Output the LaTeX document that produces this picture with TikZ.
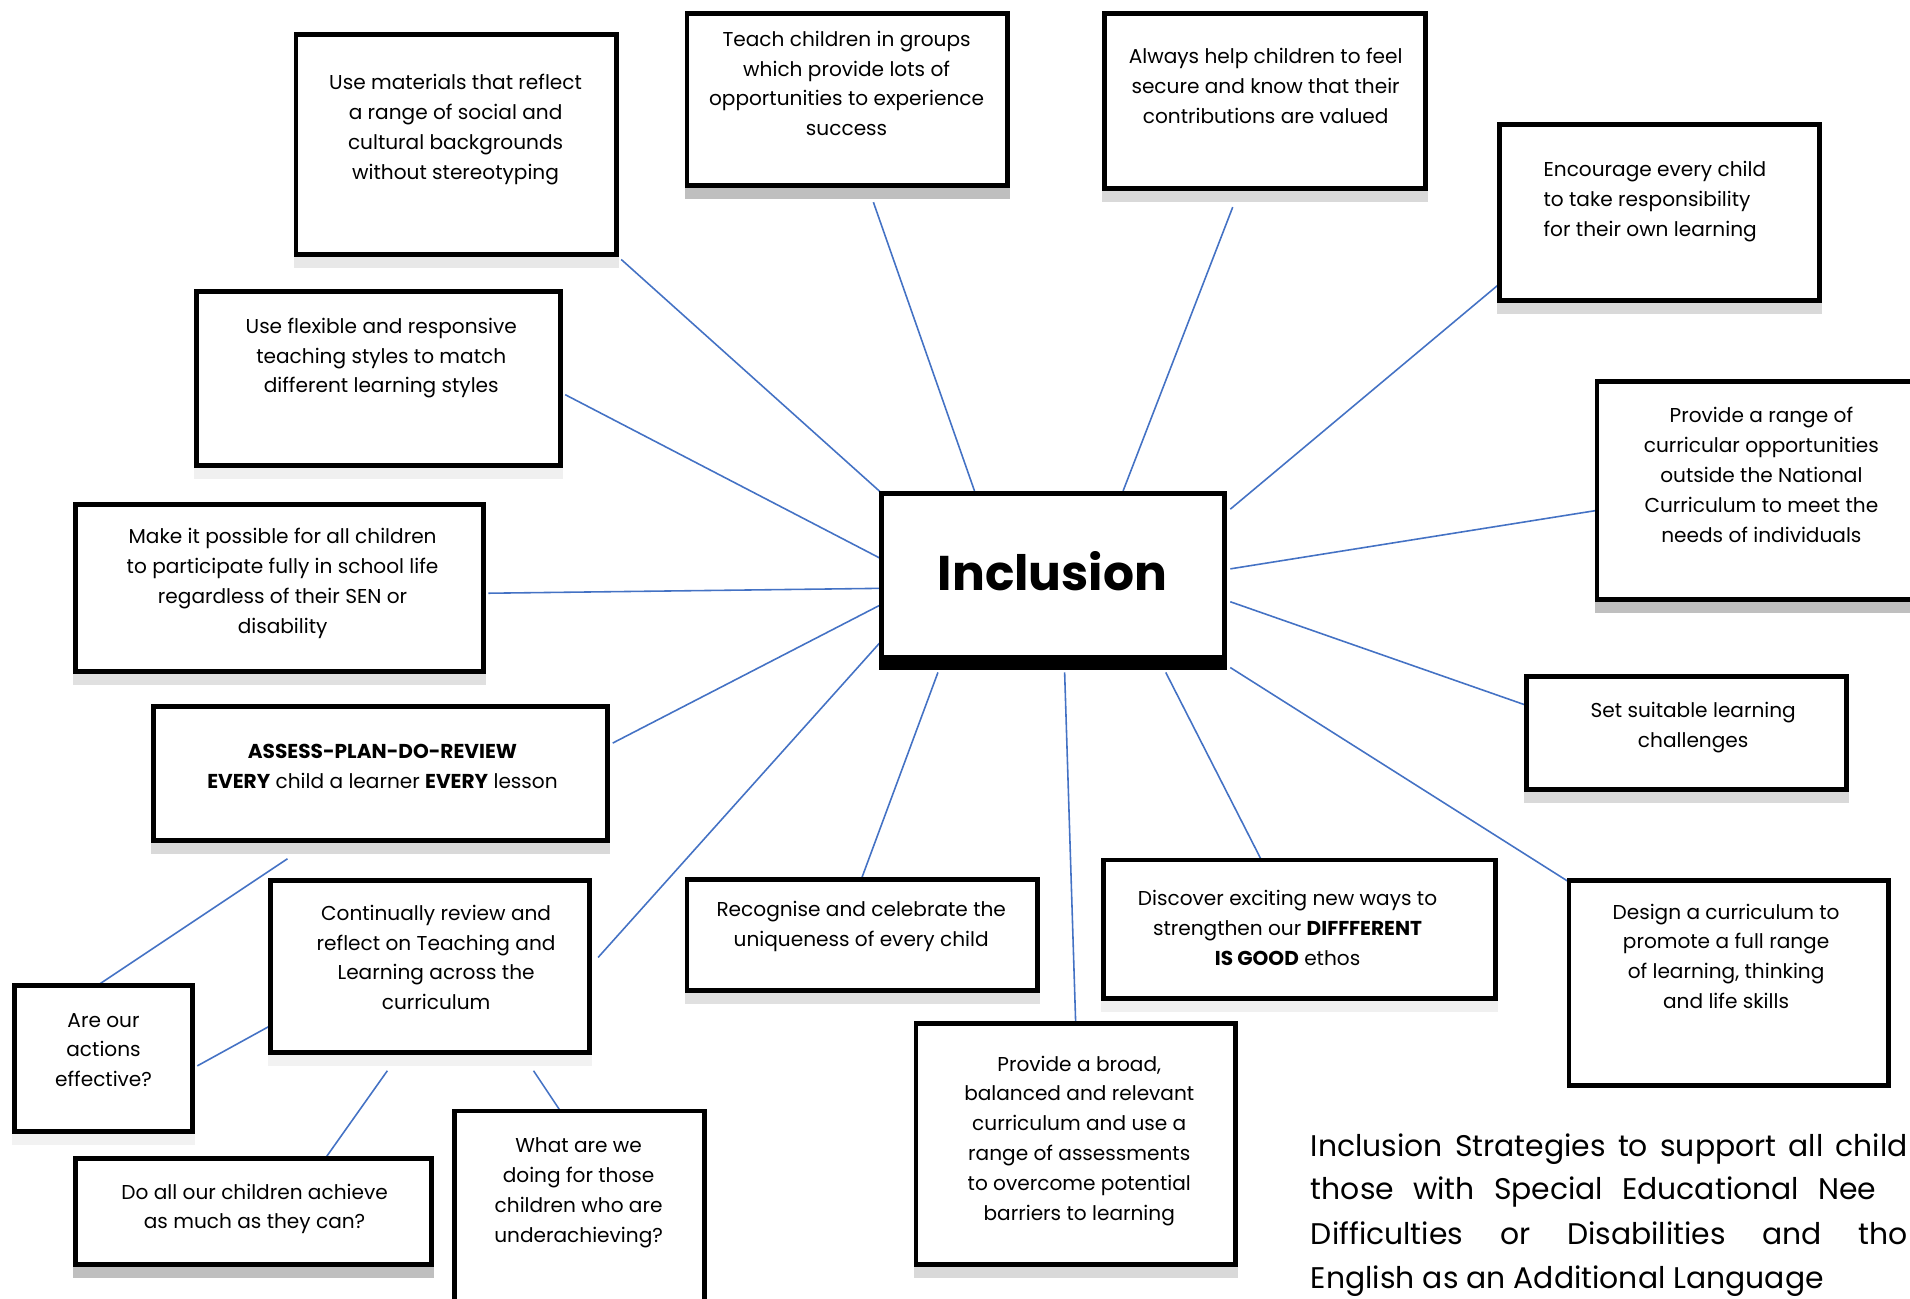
\documentclass[tikz,border=0pt]{standalone}
\usepackage{fontspec}
\setmainfont{Poppins}
\definecolor{lnkblue}{HTML}{4472C4}
\pgfdeclarelayer{bg}
\pgfsetlayers{bg,main}
\tikzset{
  bx/.style={draw=black, line width=4pt, fill=white, outer sep=0pt, inner sep=0pt, anchor=north west},
  txt/.style={align=center, font=\fontsize{16.5}{24.5}\selectfont, inner sep=0pt},
  foot/.style={font=\fontsize{24.5}{36.5}\selectfont, inner sep=0pt, anchor=base west},
  lnk/.style={draw=lnkblue, line width=1.3pt},
}
\newcommand\mkbox[6]{%
  \fill[#6] (#2,#5) rectangle (#4,#5+9);
  \node[bx, minimum width={#4pt-#2pt-4pt}, minimum height={#5pt-#3pt-4pt}] (#1) at (#2+2,#3+2) {};
}
\begin{document}
\begin{tikzpicture}[x=1pt,y=-1pt]
\useasboundingbox (0,0) rectangle (1568,1066);
\clip (0,0) rectangle (1568,1066);

% boxes
\mkbox{m1}{241}{26}{508}{211}{black!9}
\mkbox{teach}{562}{9}{829}{154}{black!25}
\mkbox{always}{905}{9}{1172}{157}{black!15}
\mkbox{enc}{1229}{100}{1496}{249}{black!15}
\mkbox{range}{1309}{311}{1580}{494}{black!25}
\mkbox{set}{1251}{553}{1518}{650}{black!15}
\mkbox{design}{1286}{721}{1552}{893}{white}
\mkbox{broad}{750}{838}{1016}{1040}{black!15}
\mkbox{disc}{904}{704}{1230}{822}{black!6}
\mkbox{recog}{562}{720}{854}{815}{black!12}
\mkbox{what}{371}{910}{580}{1075}{white}
\mkbox{doall}{60}{949}{356}{1040}{black!25}
\mkbox{areour}{10}{807}{160}{931}{black!5}
\mkbox{cont}{220}{721}{486}{866}{black!5}
\mkbox{assess}{124}{578}{501}{692}{black!15}
\mkbox{make}{60}{412}{399}{553}{black!12}
\mkbox{flex}{159}{237}{462}{384}{black!6}

% centre
\node[bx, minimum width=281pt, minimum height=143pt] (c) at (724,405) {};
\fill[black] (722,538) rectangle (1007,550);
\node[inner sep=0pt, font=\fontsize{40}{48}\selectfont\bfseries] (ct) at (864,469) {Inclusion};

% texts
\node[txt] (m1t) at (374,106.5) {Use materials that reflect\\a range of social and\\cultural backgrounds\\without stereotyping};
\node[txt] (teacht) at (695,68.5) {Teach children in groups\\which provide lots of\\opportunities to experience\\success};
\node[txt] (alwayst) at (1039,70.5) {Always help children to feel\\secure and know that their\\contributions are valued};
\node[txt, align=left, anchor=west] (enct) at (1267,165.5) {Encourage every child\\to take responsibility\\for their own learning};
\node[txt] (ranget) at (1446,390) {Provide a range of\\curricular opportunities\\outside the National\\Curriculum to meet the\\needs of individuals};
\node[txt] (sett) at (1390,597.5) {Set suitable learning\\challenges};
\node[txt] (designt) at (1417,785) {Design a curriculum to\\promote a full range\\of learning, thinking\\and life skills};
\node[txt] (broadt) at (886,936.5) {Provide a broad,\\balanced and relevant\\curriculum and use a\\range of assessments\\to overcome potential\\barriers to learning};
\node[txt] (disct) at (1057,761.5) {Discover exciting new ways to\\strengthen our \textbf{DIFFFERENT}\\\textbf{IS GOOD} ethos};
\node[txt] (recogt) at (707,760.5) {Recognise and celebrate the\\uniqueness of every child};
\node[txt] (whatt) at (475,979) {What are we\\doing for those\\children who are\\underachieving?};
\node[txt] (doallt) at (209,992.5) {Do all our children achieve\\as much as they can?};
\node[txt] (areourt) at (85,862) {Are our\\actions\\effective?};
\node[txt] (contt) at (358,786) {Continually review and\\reflect on Teaching and\\Learning across the\\curriculum};
\node[txt] (assesst) at (314,629) {\textbf{ASSESS-PLAN-DO-REVIEW}\\\textbf{EVERY} child a learner \textbf{EVERY} lesson};
\node[txt] (maket) at (232,479) {Make it possible for all children\\to participate fully in school life\\regardless of their SEN or\\disability};
\node[txt] (flext) at (313,294) {Use flexible and responsive\\teaching styles to match\\different learning styles};

% footer text
\node[foot] (f1) at (1076,949) {\makebox[490pt][s]{Inclusion Strategies to support all child}};
\node[foot] (f2) at (1076,985) {\makebox[464pt][s]{those with Special Educational Nee}};
\node[foot] (f3) at (1076,1022) {\makebox[490pt][s]{Difficulties or Disabilities and tho}};
\node[foot] (f4) at (1076,1058) {English as an Additional Language};

% connectors
\begin{pgfonlayer}{bg}
\draw[lnk] ([shift={(267,185)}]m1.north west) -- ([shift={(0,0)}]c.north west);
\draw[lnk] ([shift={(153,155)}]teach.north west) -- ([shift={(76,-2)}]c.north west);
\draw[lnk] ([shift={(105,159)}]always.north west) -- ([shift={(198,-2)}]c.north west);
\draw[lnk] ([shift={(0,131)}]enc.north west) -- ([shift={(286,13)}]c.north west);
\draw[lnk] ([shift={(0,106)}]range.north west) -- ([shift={(286,62)}]c.north west);
\draw[lnk] ([shift={(0,24)}]set.north west) -- ([shift={(286,89)}]c.north west);
\draw[lnk] ([shift={(0,1)}]design.north west) -- ([shift={(286,143)}]c.north west);
\draw[lnk] ([shift={(131,-2)}]broad.north west) -- ([shift={(150,147)}]c.north west);
\draw[lnk] ([shift={(129,-1)}]disc.north west) -- ([shift={(233,147)}]c.north west);
\draw[lnk] ([shift={(143,0)}]recog.north west) -- ([shift={(46,147)}]c.north west);
\draw[lnk] ([shift={(269,63)}]cont.north west) -- ([shift={(-2,123)}]c.north west);
\draw[lnk] ([shift={(377,30)}]assess.north west) -- ([shift={(-2,92)}]c.north west);
\draw[lnk] ([shift={(339,73)}]make.north west) -- ([shift={(-2,78)}]c.north west);
\draw[lnk] ([shift={(303,85)}]flex.north west) -- ([shift={(-2,53)}]c.north west);
\draw[lnk] ([shift={(68,0)}]areour.north west) -- ([shift={(110,125)}]assess.north west);
\draw[lnk] ([shift={(150,66)}]areour.north west) -- ([shift={(0,119)}]cont.north west);
\draw[lnk] ([shift={(205,0)}]doall.north west) -- ([shift={(96,156)}]cont.north west);
\draw[lnk] ([shift={(87,0)}]what.north west) -- ([shift={(216,156)}]cont.north west);
\end{pgfonlayer}
\end{tikzpicture}
\end{document}
